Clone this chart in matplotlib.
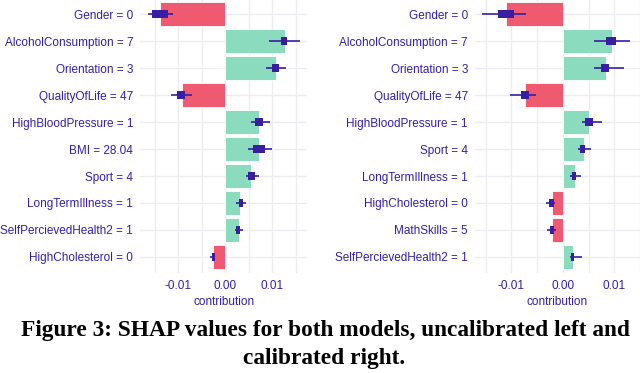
import matplotlib.pyplot as plt

# left model (uncalibrated)
left_labels = ["Gender = 0", "AlcoholConsumption = 7", "Orientation = 3", "QualityOfLife = 47",
               "HighBloodPressure = 1", "BMI = 28.04", "Sport = 4", "LongTermIllness = 1",
               "SelfPercievedHealth2 = 1", "HighCholesterol = 0"]
left_mean = [-0.0138, 0.0126, 0.0107, -0.0092, 0.0072, 0.0072, 0.0055, 0.0032, 0.0029, -0.0026]
left_q1 = [-0.0155, 0.0118, 0.0099, -0.0102, 0.0063, 0.0059, 0.0049, 0.0028, 0.0023, -0.0028]
left_q3 = [-0.0122, 0.0131, 0.0114, -0.0085, 0.0081, 0.0085, 0.0063, 0.0037, 0.0032, -0.0023]
left_lo = [-0.0165, 0.0092, 0.0087, -0.0116, 0.0054, 0.0048, 0.0043, 0.0022, 0.0021, -0.0033]
left_hi = [-0.0111, 0.0158, 0.0130, -0.0070, 0.0096, 0.0100, 0.0072, 0.0043, 0.0038, -0.0022]

# right model (calibrated)
right_labels = ["Gender = 0", "AlcoholConsumption = 7", "Orientation = 3", "QualityOfLife = 47",
                "HighBloodPressure = 1", "Sport = 4", "LongTermIllness = 1", "HighCholesterol = 0",
                "MathSkills = 5", "SelfPercievedHealth2 = 1"]
right_mean = [-0.0111, 0.0095, 0.0083, -0.0074, 0.0051, 0.0041, 0.0023, -0.0022, -0.0022, 0.0020]
right_q1 = [-0.0127, 0.0084, 0.0075, -0.0082, 0.0044, 0.0034, 0.0018, -0.0027, -0.0025, 0.0016]
right_q3 = [-0.0095, 0.0103, 0.0090, -0.0065, 0.0058, 0.0044, 0.0026, -0.0018, -0.0017, 0.0022]
right_lo = [-0.0157, 0.0061, 0.0061, -0.0103, 0.0038, 0.0030, 0.0013, -0.0032, -0.0030, 0.0014]
right_hi = [-0.0071, 0.0131, 0.0118, -0.0052, 0.0076, 0.0055, 0.0035, -0.0016, -0.0014, 0.0037]

RED = "#f05a71"
GREEN = "#8bdcbe"
BLUE = "#371ea3"
GRID = "#ededf1"


def shap_panel(ax, labels, mean, q1, q3, lo, hi, xlim):
    y = list(range(len(labels)))
    colors = [GREEN if m > 0 else RED for m in mean]
    ax.barh(y, mean, height=0.9, color=colors, edgecolor="white", linewidth=0.6, zorder=2)
    ax.hlines(y, lo, hi, color=BLUE, linewidth=1.2, zorder=3)
    widths = [b - a for a, b in zip(q1, q3)]
    ax.barh(y, widths, left=q1, height=0.3, color=BLUE, zorder=4)
    ax.set_yticks(y)
    ax.set_yticklabels(labels)
    ax.set_ylim(len(labels) - 0.4, -0.6)
    ax.set_xlim(*xlim)
    ax.set_xticks([-0.01, 0.0, 0.01])
    ax.set_xticklabels(["-0.01", "0.00", "0.01"])
    ax.set_xticks([-0.015, -0.005, 0.005, 0.015], minor=True)
    ax.grid(True, which="both", color=GRID, linewidth=1.0, zorder=0)
    ax.set_axisbelow(True)
    for s in ax.spines.values():
        s.set_visible(False)
    ax.tick_params(which="both", length=0, colors=BLUE, labelsize=8.5, pad=5)
    ax.set_xlabel("contribution", color=BLUE, fontsize=8.5, labelpad=3)


plt.rcParams["font.family"] = ["Liberation Sans", "DejaVu Sans"]
fig = plt.figure(figsize=(6.4, 3.73), dpi=100)
ax1 = fig.add_axes([0.219, 0.268, 0.261, 0.737])
ax2 = fig.add_axes([0.742, 0.268, 0.258, 0.737])
shap_panel(ax1, left_labels, left_mean, left_q1, left_q3, left_lo, left_hi, (-0.0181, 0.0174))
shap_panel(ax2, right_labels, right_mean, right_q1, right_q3, right_lo, right_hi, (-0.0171, 0.0145))

fig.text(0.508, 0.113, "Figure 3: SHAP values for both models, uncalibrated left and",
         ha="center", va="center", fontsize=16.8, fontweight="bold", family="Liberation Serif")
fig.text(0.506, 0.04, "calibrated right.",
         ha="center", va="center", fontsize=16.8, fontweight="bold", family="Liberation Serif")

fig.savefig("out.png", dpi=100)
